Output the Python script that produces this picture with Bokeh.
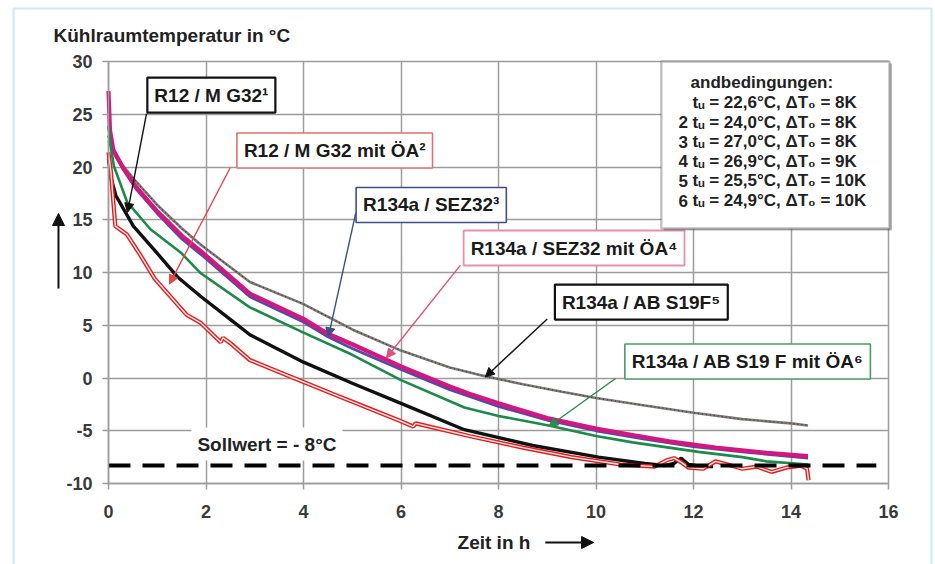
from bokeh.plotting import figure
from bokeh.models import Label, Arrow, NormalHead, BoxAnnotation, FixedTicker, Range1d
from bokeh.embed import file_html
from bokeh.resources import INLINE

# ---------------- data ----------------
x_ticks = [0, 2, 4, 6, 8, 10, 12, 14, 16]
y_ticks = [-10, -5, 0, 5, 10, 15, 20, 25, 30]

# 1  R12 / M G32 (black)
t_r12 = [0, 0.05, 0.15, 0.31, 0.51, 0.93, 1.41, 1.9, 2.57, 2.9, 4.0, 5.0, 6.0, 7.3, 8.7,
         10.05, 11.0, 11.4, 11.6, 11.75, 11.9, 12.2, 12.4]
T_r12 = [20.8, 19.0, 17.3, 16.0, 14.4, 12.2, 9.6, 7.7, 5.3, 4.1, 1.5, -0.5, -2.4, -4.9, -6.4,
         -7.5, -8.1, -8.3, -8.1, -7.6, -8.2, -8.4, -8.4]

# 2  R12 / M G32 mit OeA (red)
t_r12oa = [0, 0.05, 0.14, 0.38, 0.66, 0.95, 1.6, 1.9, 2.3, 2.35, 2.5, 2.9, 3.8, 4.6, 5.3, 6.0,
           6.25, 6.3, 7.4, 8.5, 9.5, 10.5, 11.2, 11.45, 11.6, 11.75, 11.9, 12.2, 12.45, 12.7,
           13.0, 13.3, 13.6, 13.9, 14.2, 14.33, 14.36]
T_r12oa = [21.4, 19.5, 14.4, 13.6, 11.6, 9.4, 6.0, 5.2, 3.4, 3.8, 3.3, 1.7, 0.0, -1.5, -2.8, -4.1,
           -4.6, -4.3, -5.5, -6.6, -7.5, -8.2, -8.4, -7.8, -7.6, -8.0, -8.5, -8.6, -7.9, -8.2,
           -8.6, -8.4, -8.9, -8.5, -8.3, -8.6, -9.7]

# 3  R134a / SEZ32 (blue)
t_sez = [0, 0.1, 0.3, 0.55, 1.0, 1.5, 1.9, 2.9, 4.0, 4.5, 5.0, 6.0, 7.0, 8.0, 9.0, 10.0,
         11.0, 12.0, 13.0, 14.35]
T_sez = [23.0, 21.4, 19.8, 18.0, 15.6, 13.2, 11.7, 7.7, 5.3, 3.9, 2.8, 0.8, -1.1, -2.7, -4.0,
         -5.0, -5.8, -6.5, -7.0, -7.6]

# 4  R134a / SEZ32 mit OeA (magenta)
t_sezoa = [0, 0.03, 0.1, 0.3, 0.55, 1.0, 1.5, 1.9, 2.9, 4.0, 4.5, 5.0, 6.0, 7.0, 7.4, 8.0,
           9.0, 10.0, 10.75, 11.5, 12.45, 13.5, 14.35]
T_sezoa = [27.2, 23.5, 21.6, 19.9, 18.2, 15.8, 13.5, 12.0, 8.0, 5.6, 4.2, 3.2, 1.1, -0.8, -1.5,
           -2.4, -3.8, -4.8, -5.4, -6.0, -6.6, -7.1, -7.4]

# 5  R134a / AB S19F (grey)
t_ab = [0, 0.1, 0.3, 0.55, 1.0, 1.5, 1.9, 2.9, 4.0, 5.0, 6.0, 7.0, 7.7, 8.5, 9.3, 10.0,
        11.0, 12.0, 13.0, 14.0, 14.35]
T_ab = [22.5, 21.5, 20.1, 18.7, 16.4, 14.2, 12.6, 9.1, 7.0, 4.6, 2.6, 1.0, 0.2, -0.6, -1.3,
        -1.9, -2.6, -3.3, -3.9, -4.3, -4.5]

# 6  R134a / AB S19 F mit OeA (green)
t_aboa = [0, 0.05, 0.11, 0.38, 0.86, 1.48, 1.9, 2.9, 4.0, 5.0, 6.0, 7.3, 8.0, 9.03, 10.0,
          10.75, 12.1, 13.0, 13.5, 14.35]
T_aboa = [23.9, 21.8, 20.1, 16.7, 14.1, 11.9, 9.9, 6.7, 4.3, 2.2, -0.2, -2.8, -3.6, -4.5, -5.5,
          -6.1, -7.0, -7.5, -7.9, -8.2]

sollwert = -8.3
soll_t = [0, 15.75]

box_texts = ["R12 / M G32\u00b9", "R12 / M G32 mit \u00d6A\u00b2", "R134a / SEZ32\u00b3",
             "R134a / SEZ32 mit \u00d6A\u2074", "R134a / AB S19F\u2075",
             "R134a / AB S19 F mit \u00d6A\u2076"]

cond_head = "andbedingungen:"
cond_num = ["", "2", "3", "4", "5", "6"]
cond_rows = ["t\u1d64 = 22,6\u00b0C, \u0394T\u2080  = 8K",
             "t\u1d64 = 24,0\u00b0C, \u0394T\u2080 = 8K",
             "t\u1d64 = 27,0\u00b0C, \u0394T\u2080 = 8K",
             "t\u1d64 = 26,9\u00b0C, \u0394T\u2080 = 9K",
             "t\u1d64 = 25,5\u00b0C, \u0394T\u2080 = 10K",
             "t\u1d64 = 24,9\u00b0C, \u0394T\u2080 = 10K"]

y_title = "K\u00fchlraumtemperatur in \u00b0C"
x_title = "Zeit in h"

FONT = "Liberation Sans"
W, H = 935, 564
PX_X, PX_Y = 48.75, 10.55        # pixels per unit
X0_PX, Y30_PX = 108, 61          # where x=0 and y=30 sit on the canvas

# ---------------- figure (frame = whole canvas, axes at fixed locations) ----------------
p = figure(width=W, height=H, output_backend="svg", toolbar_location=None,
           x_range=Range1d(-X0_PX / PX_X, (W - X0_PX) / PX_X),
           y_range=Range1d(30 - (H - Y30_PX) / PX_Y, 30 + Y30_PX / PX_Y),
           min_border=0)
p.background_fill_color = "white"
p.border_fill_color = "white"
p.outline_line_color = None

GRID = "#9c9c9c"
xb = (x_ticks[0], x_ticks[-1])
yb = (y_ticks[0], y_ticks[-1])
p.xaxis.fixed_location = y_ticks[0]
p.yaxis.fixed_location = x_ticks[0]
p.xaxis.bounds = xb
p.yaxis.bounds = yb
for ax, ticks in ((p.xaxis, x_ticks), (p.yaxis, y_ticks)):
    ax.ticker = FixedTicker(ticks=ticks)
    ax.axis_line_color = GRID
    ax.axis_line_width = 1.5
    ax.major_tick_line_color = GRID
    ax.major_tick_line_width = 1.5
    ax.major_tick_out = 6
    ax.major_tick_in = 0
    ax.minor_tick_line_color = None
    ax.major_label_text_font = FONT
    ax.major_label_text_font_style = "bold"
    ax.major_label_text_font_size = "18px"
    ax.major_label_text_color = "#3a3a3a"
p.yaxis.major_label_standoff = 10
p.xaxis.major_label_standoff = 15
p.yaxis.major_label_overrides = {v: str(v) for v in y_ticks}
p.xaxis.major_label_overrides = {v: str(v) for v in x_ticks}

p.xgrid.ticker = FixedTicker(ticks=x_ticks)
p.ygrid.ticker = FixedTicker(ticks=y_ticks)
p.xgrid.bounds = xb
p.xgrid.cross_bounds = yb
p.ygrid.bounds = yb
p.ygrid.cross_bounds = xb
for g in (p.xgrid, p.ygrid):
    g.grid_line_color = GRID
    g.grid_line_width = 1.5

# curves
p.line(t_ab, T_ab, line_color="#7e7974", line_width=2.6)
p.line(t_ab, T_ab, line_color="#3c3c3c", line_width=1.3, line_dash="1 3")
p.line(t_sez, T_sez, line_color="#5448a8", line_width=2.8)
p.line(t_sezoa, T_sezoa, line_color="#d2187e", line_width=4.2)
p.line(t_aboa, T_aboa, line_color="#1c8a48", line_width=2.6)
p.line(t_r12, T_r12, line_color="#111111", line_width=3.4)
p.line(t_r12oa, T_r12oa, line_color="#e11c1c", line_width=4.2)
p.line(t_r12oa, T_r12oa, line_color="#ffeaea", line_width=1.4)

# set point line
p.line(soll_t, [sollwert, sollwert], line_color="black", line_width=4, line_dash="22 12")

# outer light blue frame
p.add_layout(BoxAnnotation(left=(13 - X0_PX) / PX_X, right=(931 - X0_PX) / PX_X,
                           top=30 + (Y30_PX - 8) / PX_Y, bottom=-19.0,
                           fill_color=None, line_color="#52bdec", line_width=2.2))

# leader arrows: (x_start, y_start, x_end, y_end, colour)
leaders = [
    (0.78, 25.07, 0.39, 15.7, "#111111"),
    (2.50, 19.95, 1.25, 8.9, "#e04848"),
    (5.07, 15.6, 4.51, 3.9, "#3c4f86"),
    (7.22, 10.7, 5.70, 1.9, "#e0507a"),
    (9.00, 5.6, 7.73, 0.1, "#111111"),
    (10.40, -0.05, 9.03, -4.6, "#2a8a50"),
]
for xs, ys, xe, ye, c in leaders:
    p.add_layout(Arrow(end=NormalHead(size=9, fill_color=c, line_color=c, line_width=1),
                       x_start=xs, y_start=ys, x_end=xe, y_end=ye,
                       line_color=c, line_width=1.4))

# label boxes: (x, y, border colour, border width)
box_pos = [
    (2.11, 26.82, "#111111", 2.2),
    (4.64, 21.56, "#e07070", 1.6),
    (6.62, 16.40, "#3c4f86", 1.6),
    (9.55, 12.32, "#e890a8", 1.8),
    (10.93, 7.20, "#111111", 2.2),
    (13.11, 1.56, "#4a9a6a", 1.6),
]
for (x, y, c, w), txt in zip(box_pos, box_texts):
    p.add_layout(Label(x=x, y=y, text=txt, text_align="center", text_baseline="middle",
                       text_font=FONT, text_font_style="bold", text_font_size="19px",
                       text_color="#1a1a1a", background_fill_color="white",
                       border_line_color=c, border_line_width=w, padding=7))

# Sollwert label
p.add_layout(Label(x=3.25, y=-6.26, text="Sollwert = - 8\u00b0C", text_align="center",
                   text_baseline="middle", text_font=FONT, text_font_style="bold",
                   text_font_size="19px", text_color="#222222",
                   background_fill_color="white", padding=6))

# conditions box
p.add_layout(BoxAnnotation(left=11.39, right=16.07, top=29.8, bottom=13.97,
                           fill_color="#777777", fill_alpha=0.55, line_color=None))
p.add_layout(BoxAnnotation(left=11.34, right=16.02, top=30.0, bottom=14.17,
                           fill_color="white", fill_alpha=1.0,
                           line_color="#333333", line_width=2.4))
p.add_layout(Label(x=11.94, y=28.0, text=cond_head, text_align="left", text_baseline="middle",
                   text_font=FONT, text_font_style="bold", text_font_size="17px",
                   text_color="#222222"))
row_y = [26.11, 24.25, 22.40, 20.54, 18.68, 16.82]
for yy, num, row in zip(row_y, cond_num, cond_rows):
    if num:
        p.add_layout(Label(x=11.69, y=yy, text=num, text_align="left", text_baseline="middle",
                           text_font=FONT, text_font_style="bold", text_font_size="17px",
                           text_color="#222222"))
    p.add_layout(Label(x=11.98, y=yy, text=row, text_align="left", text_baseline="middle",
                       text_font=FONT, text_font_style="bold", text_font_size="17px",
                       text_color="#222222"))

# axis titles and direction arrows
p.add_layout(Label(x=-1.128, y=32.46, text=y_title, text_align="left",
                   text_baseline="middle", text_font=FONT, text_font_style="bold",
                   text_font_size="19px", text_color="#222222"))
p.add_layout(Label(x=7.16, y=-15.59, text=x_title, text_align="left",
                   text_baseline="middle", text_font=FONT, text_font_style="bold",
                   text_font_size="19px", text_color="#222222"))
p.add_layout(Arrow(end=NormalHead(size=12, fill_color="#111111", line_color="#111111"),
                   x_start=-1.026, y_start=8.48, x_end=-1.026, y_end=15.59,
                   line_color="#111111", line_width=2))
p.add_layout(Arrow(end=NormalHead(size=12, fill_color="#111111", line_color="#111111"),
                   x_start=8.96, y_start=-15.59, x_end=9.95, y_end=-15.59,
                   line_color="#111111", line_width=2))

open("out.html", "w").write(file_html(p, INLINE))
